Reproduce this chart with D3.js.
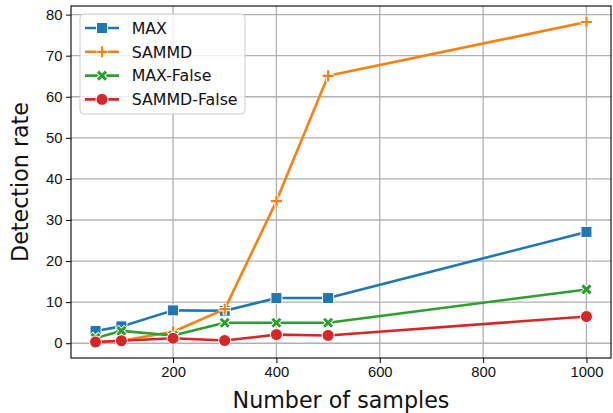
<!DOCTYPE html>
<html>
<head>
<meta charset="utf-8">
<script src="https://cdn.jsdelivr.net/npm/d3@7/dist/d3.min.js"></script>
<style>
  body { margin: 0; background: #fff; }
  svg { font-family: "DejaVu Sans", sans-serif; }
  .tick text { font-size: 14.8px; fill: #111; }
</style>
</head>
<body>
<div id="chart"></div>
<script>
// Detection rate vs number of samples, four methods.
const samples = [50, 100, 200, 300, 400, 500, 1000];
const maxRate = [3, 4.1, 8, 7.9, 11, 11, 27.1];
const sammdRate = [0.3, 0.6, 2.8, 8.3, 34.6, 65.1, 78.2];
const maxFalseRate = [1.3, 3, 1.9, 5, 5, 5, 13.1];
const sammdFalseRate = [0.3, 0.6, 1.2, 0.65, 2.1, 1.9, 6.5];
const xTicks = [200, 400, 600, 800, 1000];
const yTicks = [0, 10, 20, 30, 40, 50, 60, 70, 80];

const series = [
    {name: 'MAX', values: maxRate, color: '#1f77b4', marker: 'square'},
    {name: 'SAMMD', values: sammdRate, color: '#ff7f0e', marker: 'plus'},
    {name: 'MAX-False', values: maxFalseRate, color: '#2ca02c', marker: 'cross'},
    {name: 'SAMMD-False', values: sammdFalseRate, color: '#d62728', marker: 'circle'}
];

const W = 613, H = 413;
const margin = {top: 6, right: 2, bottom: 55, left: 71};

const svg = d3.select('#chart').append('svg')
    .attr('width', W).attr('height', H);

// matplotlib-style 5% padding around the data range
function padded(lo, hi) {
    const p = (hi - lo) * 0.05;
    return [lo - p, hi + p];
}
const allY = series.flatMap(s => s.values);
const x = d3.scaleLinear()
    .domain(padded(d3.min(samples), d3.max(samples)))
    .range([margin.left, W - margin.right]);
const y = d3.scaleLinear()
    .domain(padded(d3.min(allY), d3.max(allY)))
    .range([H - margin.bottom, margin.top]);

// Grid
const grid = svg.append('g');
grid.selectAll('.gx').data(xTicks).enter().append('line')
    .attr('x1', d => x(d)).attr('x2', d => x(d))
    .attr('y1', margin.top).attr('y2', H - margin.bottom)
    .attr('stroke', '#b0b0b0').attr('stroke-width', 1.3);
grid.selectAll('.gy').data(yTicks).enter().append('line')
    .attr('x1', margin.left).attr('x2', W - margin.right)
    .attr('y1', d => y(d)).attr('y2', d => y(d))
    .attr('stroke', '#b0b0b0').attr('stroke-width', 1.3);

// Axes
svg.append('g')
    .attr('transform', `translate(0,${H - margin.bottom})`)
    .call(d3.axisBottom(x).tickValues(xTicks).tickFormat(d3.format('d')).tickSize(5).tickPadding(3.5))
    .call(g => g.select('.domain').remove());
svg.append('g')
    .attr('transform', `translate(${margin.left},0)`)
    .call(d3.axisLeft(y).tickValues(yTicks).tickSize(5).tickPadding(3.5))
    .call(g => g.select('.domain').remove());
svg.selectAll('.tick line').attr('stroke', '#000').attr('stroke-width', 1);

svg.append('rect')
    .attr('x', margin.left).attr('y', margin.top)
    .attr('width', W - margin.right - margin.left)
    .attr('height', H - margin.bottom - margin.top)
    .attr('fill', 'none').attr('stroke', '#000').attr('stroke-width', 1.1);

// Axis labels
svg.append('text')
    .attr('x', (margin.left + W - margin.right) / 2).attr('y', 408)
    .attr('text-anchor', 'middle').attr('font-size', 22.2).attr('fill', '#111')
    .text('Number of samples');
svg.append('text')
    .attr('transform', `translate(28,${(margin.top + H - margin.bottom) / 2}) rotate(-90)`)
    .attr('text-anchor', 'middle').attr('font-size', 22.2).attr('fill', '#111')
    .text('Detection rate');

function drawMarker(g, kind, color) {
    if (kind === 'square') {
        g.append('rect').attr('x', -5.5).attr('y', -5.5).attr('width', 11).attr('height', 11)
            .attr('fill', color).attr('stroke', '#fff').attr('stroke-width', 1);
    } else if (kind === 'circle') {
        g.append('circle').attr('r', 6)
            .attr('fill', color).attr('stroke', '#fff').attr('stroke-width', 1);
    } else if (kind === 'plus') {
        g.append('path').attr('d', 'M-6,0H6M0,-6V6')
            .attr('stroke', '#fff').attr('stroke-width', 4.2);
        g.append('path').attr('d', 'M-5.5,0H5.5M0,-5.5V5.5')
            .attr('stroke', color).attr('stroke-width', 2.2);
    } else {
        g.append('path').attr('d', 'M-4.5,-4.5L4.5,4.5M-4.5,4.5L4.5,-4.5')
            .attr('stroke', '#fff').attr('stroke-width', 5);
        g.append('path').attr('d', 'M-4,-4L4,4M-4,4L4,-4')
            .attr('stroke', color).attr('stroke-width', 3);
    }
}

// Lines and markers
const line = d3.line().x((d, i) => x(samples[i])).y(d => y(d));
series.forEach(s => {
    svg.append('path')
        .datum(s.values)
        .attr('d', line)
        .attr('fill', 'none')
        .attr('stroke', s.color)
        .attr('stroke-width', 2.6)
        .attr('stroke-linejoin', 'round');
    s.values.forEach((v, i) => {
        const g = svg.append('g').attr('transform', `translate(${x(samples[i])},${y(v)})`);
        drawMarker(g, s.marker, s.color);
    });
});

// Legend
const legend = svg.append('g').attr('transform', 'translate(80,14)');
legend.append('rect')
    .attr('x', 0).attr('y', 0).attr('width', 165).attr('height', 100)
    .attr('rx', 4).attr('fill', '#fff').attr('fill-opacity', 0.8)
    .attr('stroke', '#cccccc').attr('stroke-width', 1);
series.forEach((s, i) => {
    const row = legend.append('g').attr('transform', `translate(0,${14 + i * 23.8})`);
    row.append('line').attr('x1', 5).attr('x2', 39).attr('y1', 0).attr('y2', 0)
        .attr('stroke', s.color).attr('stroke-width', 2.6);
    const m = row.append('g').attr('transform', 'translate(22,0)');
    drawMarker(m, s.marker, s.color);
    row.append('text').attr('x', 51.7).attr('y', 5.7)
        .attr('font-size', 15.8).attr('fill', '#111').text(s.name);
});
</script>
</body>
</html>
